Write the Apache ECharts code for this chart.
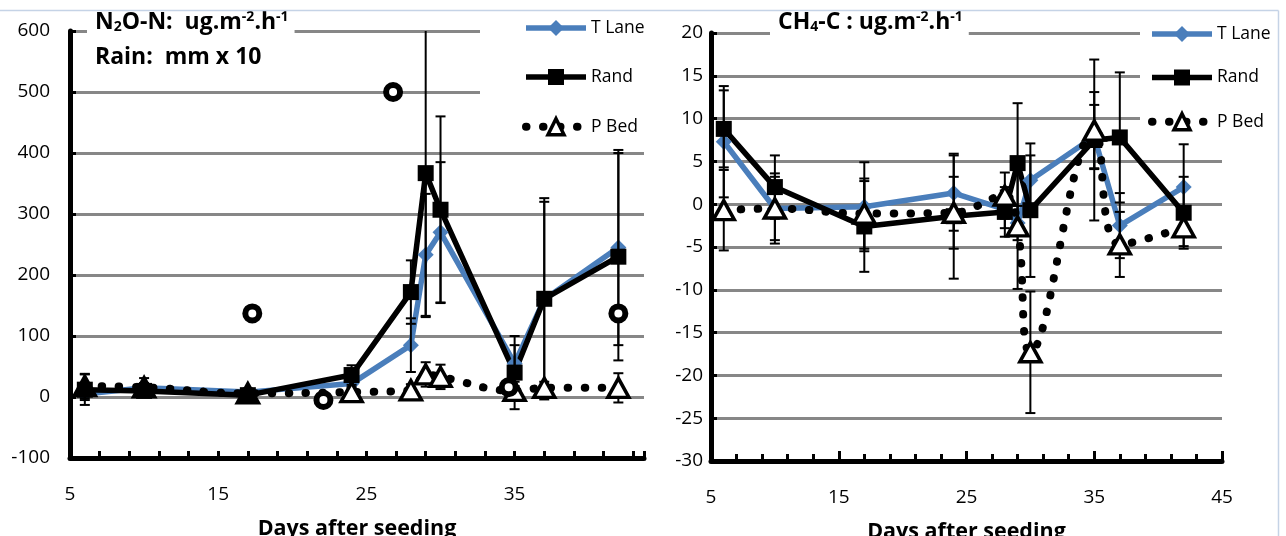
<!DOCTYPE html>
<html><head><meta charset="utf-8">
<script src="https://cdn.jsdelivr.net/npm/echarts@6/dist/echarts.min.js"></script>
<style>html,body{margin:0;padding:0;background:#fff}#c{width:1286px;height:536px}</style>
</head><body><div id="c"></div>
<script>
// ---------- data ----------
const days = [6, 10, 17, 24, 28, 29, 30, 35, 37, 42];
const seriesNames = ['T Lane', 'Rand', 'P Bed'];
const xTickLabels = [5, 15, 25, 35, 45];

// N2O-N (ug m-2 h-1)
const n2oYTicks = [-100, 0, 100, 200, 300, 400, 500, 600];
const n2oTLane = [5, 15, 8, 22, 85, 233, 270, 55, 160, 245];
const n2oRand  = [12, 10, 3, 36, 172, 367, 307, 40, 161, 230];
const n2oPBed  = [18, 16, 6, 8, 11, 37, 33, 10, 15, 15];
const n2oTLaneErr = [10, 8, 5, 10, 44, 100, 115, 30, 160, 160];
const n2oRandErr  = [25, 10, 5, 16, 52, 236, 153, 60, 165, 170];
const n2oPBedErr  = [20, 15, 8, 8, 10, 20, 20, 8, 10, 24];
// Rain (mm x 10)
const rainDays = [17.3, 22.1, 26.8, 34.6, 42];
const rainMm10 = [137, -5, 500, 16, 137];

// CH4-C (ug m-2 h-1)
const ch4YTicks = [-30, -25, -20, -15, -10, -5, 0, 5, 10, 15, 20];
const ch4TLane = [7.3, -0.5, -0.3, 1.3, -0.6, -2.2, 2.8, 7.9, -2.5, 2.0];
const ch4Rand  = [8.8, 2.0, -2.6, -1.4, -0.9, 4.8, -0.7, 7.5, 7.8, -1.0];
const ch4PBed  = [-0.7, -0.5, -1.1, -1.0, 1.0, -2.6, -17.3, 8.6, -4.7, -2.7];
const ch4TLaneErr = [6.5, 3.7, 5.2, 4.4, 2.2, 2.0, 2.9, 3.7, 3.8, 5.0];
const ch4RandErr  = [4.5, 3.7, 5.3, 7.3, 2.9, 7.0, 7.8, 9.4, 7.6, 4.2];
const ch4PBedErr  = [4.7, 4.1, 4.1, 4.2, 2.7, 7.3, 7.1, 4.5, 3.8, 2.2];

// ---------- styling ----------
const FONT = '"Open Sans", Lato, sans-serif';
const BLUE = '#4a7ebb';
const GRIDC = '#878787';
const DOTS = [0.5, 16.5];

function pts(vals) { return days.map((d, i) => [d, vals[i]]); }

function errRender(params, api) {
  const x = api.value(0), lo = api.value(1), hi = api.value(2);
  const cs = params.coordSys;
  const pHi = api.coord([x, hi]), pLo = api.coord([x, lo]);
  const yTop = cs.y, yBot = cs.y + cs.height;
  const y1 = Math.max(pHi[1], yTop), y2 = Math.min(pLo[1], yBot);
  const cx = pHi[0], w = 5;
  const style = { stroke: '#000', lineWidth: 2 };
  const children = [{ type: 'line', shape: { x1: cx, y1: y1, x2: cx, y2: y2 }, style }];
  if (pHi[1] >= yTop) children.push({ type: 'line', shape: { x1: cx - w, y1: pHi[1], x2: cx + w, y2: pHi[1] }, style });
  if (pLo[1] <= yBot) children.push({ type: 'line', shape: { x1: cx - w, y1: pLo[1], x2: cx + w, y2: pLo[1] }, style });
  return { type: 'group', children };
}

function errSeries(idx, vals, errs) {
  return {
    type: 'custom', name: 'err', xAxisIndex: idx, yAxisIndex: idx, z: 3, silent: true,
    encode: { x: 0, y: [1, 2] },
    data: days.map((d, i) => [d, vals[i] - errs[i], vals[i] + errs[i]]),
    renderItem: errRender
  };
}

function lineSeries(idx, name, vals, filledIdx) {
  const base = { type: 'line', name, xAxisIndex: idx, yAxisIndex: idx, silent: true };
  if (name === 'T Lane') return Object.assign(base, {
    data: pts(vals), z: 2, symbol: 'diamond', symbolSize: 16,
    lineStyle: { color: BLUE, width: 5.5 }, itemStyle: { color: BLUE }
  });
  if (name === 'Rand') return Object.assign(base, {
    data: pts(vals), z: 2, symbol: 'rect', symbolSize: 16,
    lineStyle: { color: '#000', width: 5.5 }, itemStyle: { color: '#000' }
  });
  return Object.assign(base, {
    z: 4, smooth: 0.4, symbol: 'triangle', symbolSize: [21, 19],
    data: days.map((d, i) => (filledIdx && filledIdx.includes(i))
      ? { value: [d, vals[i]], itemStyle: { color: '#000' } }
      : { value: [d, vals[i]] }),
    lineStyle: { color: '#000', width: 8, type: DOTS, cap: 'round' },
    itemStyle: { color: '#fff', borderColor: '#000', borderWidth: 3.5 }
  });
}

const tickFont = { fontFamily: FONT, fontSize: 19, color: '#000' };
const titleRich = {
  b: { fontFamily: FONT, fontSize: 23, fontWeight: 'bold', color: '#000', lineHeight: 24 },
  sub: { fontFamily: FONT, fontSize: 14, fontWeight: 'bold', color: '#000', lineHeight: 10, verticalAlign: 'bottom' },
  sup: { fontFamily: FONT, fontSize: 14, fontWeight: 'bold', color: '#000', lineHeight: 8, verticalAlign: 'top' }
};

function yAxisCfg(idx, ticks, margin) {
  return {
    gridIndex: idx, type: 'value', min: ticks[0], max: ticks[ticks.length - 1], interval: ticks[1] - ticks[0],
    axisLine: { show: true, onZero: false, lineStyle: { color: '#000', width: 5 } },
    axisTick: { show: true, inside: true, length: 6, lineStyle: { color: '#000', width: 3 } },
    axisLabel: Object.assign({ margin }, tickFont),
    splitLine: { show: true, lineStyle: { color: GRIDC, width: 3 } }
  };
}

const xName = {
  name: 'Days after seeding', nameLocation: 'middle', nameGap: 60,
  nameTextStyle: { fontFamily: FONT, fontSize: 21.5, fontWeight: 'bold', color: '#000' }
};

const legendData = [
  { name: 'T Lane' },
  { name: 'Rand' },
  { name: 'P Bed', lineStyle: { width: 8, type: DOTS, cap: 'round' }, itemStyle: { borderWidth: 3.5 } }
];
const legendBase = {
  orient: 'vertical', itemWidth: 60, itemHeight: 20, selectedMode: false,
  backgroundColor: '#fff', data: legendData,
  lineStyle: { width: 5.5 },
  textStyle: { fontFamily: FONT, fontSize: 17.5, color: '#000' }
};

const option = {
  animation: false,
  backgroundColor: '#fff',
  title: [
    { left: 87, top: 8, padding: [2, 6, 2, 8], backgroundColor: '#fff',
      text: '{b|N}{sub|2}{b|O-N:  ug.m}{sup|-2}{b|.h}{sup|-1}', textStyle: { rich: titleRich } },
    { left: 95, top: 45, padding: 0,
      text: '{b|Rain:  mm x 10}', textStyle: { rich: titleRich } },
    { left: 770, top: 8, padding: [2, 6, 2, 8], backgroundColor: '#fff',
      text: '{b|CH}{sub|4}{b|-C : ug.m}{sup|-2}{b|.h}{sup|-1}', textStyle: { rich: titleRich } }
  ],
  legend: [
    Object.assign({}, legendBase, { left: 480, top: 11, padding: [8, 6, 10, 42], itemGap: 31 }),
    Object.assign({}, legendBase, { left: 1140, top: 17, padding: [8, 4, 10, 8], itemGap: 25.5 })
  ],
  grid: [
    { left: 70, top: 31, right: 1286 - 644, bottom: 78, containLabel: false, outerBoundsMode: 'none' },
    { left: 711, top: 33, right: 64, bottom: 75, containLabel: false, outerBoundsMode: 'none' }
  ],
  xAxis: [
    Object.assign({
      gridIndex: 0, type: 'value', min: xTickLabels[0], max: 43.73, interval: 2,
      axisLine: { onZero: false, lineStyle: { color: '#000', width: 5 } },
      axisTick: { inside: true, length: 7, lineStyle: { color: '#000', width: 3 } },
      axisLabel: Object.assign({ margin: 27, formatter: v => xTickLabels.includes(v) ? String(v) : '' }, tickFont),
      splitLine: { show: false }
    }, xName),
    Object.assign({
      gridIndex: 1, type: 'value', min: xTickLabels[0], max: xTickLabels[xTickLabels.length - 1],
      interval: xTickLabels[1] - xTickLabels[0],
      axisLine: { onZero: false, lineStyle: { color: '#000', width: 5 } },
      axisTick: { inside: true, length: 10, lineStyle: { color: '#000', width: 3 } },
      minorTick: { show: true, splitNumber: 5, length: 7, lineStyle: { color: '#000', width: 3 } },
      axisLabel: Object.assign({ margin: 27 }, tickFont),
      splitLine: { show: false }
    }, xName)
  ],
  yAxis: [yAxisCfg(0, n2oYTicks, 20), yAxisCfg(1, ch4YTicks, 8)],
  graphic: [
    { type: 'line', z: 100, shape: { x1: 0, y1: 10.5, x2: 1278.5, y2: 10.5 }, style: { stroke: '#c5d3e6', lineWidth: 1.5 } },
    { type: 'line', z: 100, shape: { x1: 1278.5, y1: 10.5, x2: 1278.5, y2: 536 }, style: { stroke: '#c5d3e6', lineWidth: 1.5 } }
  ],
  series: [
    lineSeries(0, 'T Lane', n2oTLane),
    lineSeries(0, 'Rand', n2oRand),
    lineSeries(0, 'P Bed', n2oPBed, [0, 1, 2]),
    errSeries(0, n2oTLane, n2oTLaneErr),
    errSeries(0, n2oRand, n2oRandErr),
    errSeries(0, n2oPBed, n2oPBedErr),
    { type: 'scatter', name: 'Rain', xAxisIndex: 0, yAxisIndex: 0, z: 6, silent: true,
      data: rainDays.map((d, i) => [d, rainMm10[i]]), symbol: 'circle', symbolSize: 14,
      itemStyle: { color: '#fff', borderColor: '#000', borderWidth: 6, opacity: 1 } },
    lineSeries(1, 'T Lane', ch4TLane),
    lineSeries(1, 'Rand', ch4Rand),
    lineSeries(1, 'P Bed', ch4PBed),
    errSeries(1, ch4TLane, ch4TLaneErr),
    errSeries(1, ch4Rand, ch4RandErr),
    errSeries(1, ch4PBed, ch4PBedErr)
  ]
};

const chart = echarts.init(document.getElementById('c'), null, { renderer: 'canvas' });
chart.setOption(option);
</script>
</body></html>
